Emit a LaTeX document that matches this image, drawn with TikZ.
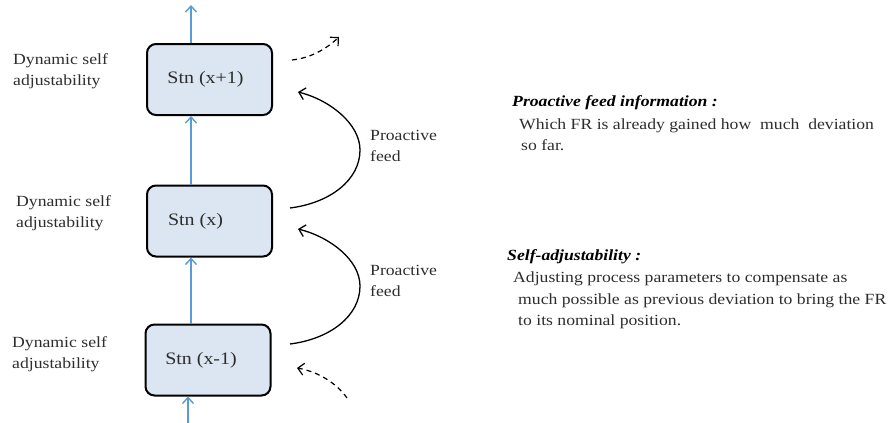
\documentclass[tikz,border=0pt]{standalone}
\usepackage{fontspec}
\setmainfont{Liberation Serif}[FakeStretch=1.14]
\usetikzlibrary{arrows.meta}
\definecolor{boxfill}{RGB}{220,230,242}
\definecolor{flowblue}{RGB}{91,155,213}
\definecolor{txt}{RGB}{45,45,45}
\begin{document}
\begin{tikzpicture}[x=1pt,y=-1pt,
  stn/.style={draw=black,line width=2pt,fill=boxfill,rounded corners=9pt,minimum width=125pt,minimum height=71pt,inner sep=0pt,font=\fontsize{17.5}{20}\selectfont,text=txt},
  flow/.style={draw=flowblue,line width=1.4pt,-{Straight Barb[length=6pt,width=11pt,line width=1.4pt]}},
  feed/.style={draw=black,line width=1.3pt,-{Straight Barb[length=6pt,width=12pt,line width=1.3pt]}},
  dfeed/.style={draw=black,line width=1.2pt,dash pattern=on 5pt off 4pt,-{Straight Barb[length=6pt,width=12pt,line width=1.2pt]}},
  lbl/.style={anchor=west,align=left,text=txt,font=\fontsize{15.5}{21.5}\selectfont,inner sep=0pt},
  head/.style={anchor=west,text=black,font=\fontsize{15.5}{21.5}\selectfont\bfseries\itshape,inner sep=0pt}]
\useasboundingbox (0,0) rectangle (895,423);
\node[stn] (s3) at (209.5,79.5) {Stn (x+1)\kern8pt};
\node[stn] (s2) at (209.5,221) {Stn (x)\kern28pt};
\node[stn] (s1) at (208,360) {Stn (x-1)\kern14pt};
% blue flow arrows
\coordinate (topend) at (191,5);
\coordinate (botstart) at (188,423);
\draw[flow] (s3.north -| topend) -- (topend);
\draw[flow] (s2.north -| topend) -- (s3.south -| topend);
\draw[flow] (s1.north -| topend) -- (s2.south -| topend);
\draw[flow] (botstart) -- (s1.south -| botstart);
% left labels
\node[lbl] (d3) at (13,71) {Dynamic self\\adjustability};
\node[lbl] (d2) at (16,213) {Dynamic self\\adjustability};
\node[lbl] (d1) at (12,354) {Dynamic self\\adjustability};
% proactive feed curves
\coordinate (a2) at (290,208);
\coordinate (b3) at (298,92);
\coordinate (a1) at (290,344);
\coordinate (b2) at (298,229);
\draw[feed] (a2) .. controls (330,203) and (360,180) .. (360,150) .. controls (360,124) and (330,100) .. (b3);
\draw[feed] (a1) .. controls (330,339) and (360,316) .. (360,286) .. controls (360,260) and (330,237) .. (b2);
\node[lbl] (p2) at (370,146) {Proactive\\feed};
\node[lbl] (p1) at (370,281) {Proactive\\feed};
% dashed arrows
\coordinate (t1) at (292,60);
\coordinate (t2) at (339,37);
\coordinate (u1) at (347,398);
\coordinate (u2) at (297,368);
\draw[dfeed] (t1) .. controls (310,58) and (325,50) .. (t2);
\draw[dfeed] (u1) .. controls (338,385) and (320,372) .. (u2);
% right text
\node[head] (h1) at (512,103) {Proactive feed information :};
\node[lbl] (b1) at (519,134.5) {Which FR is already gained how\ \ much\ \ deviation\\\hspace{2pt}so far.};
\node[head] (h2) at (507,257) {Self-adjustability :};
\node[lbl] (b2t) at (513,300.5) {Adjusting process parameters to compensate as\\\hspace{5pt}much possible as previous deviation to bring the FR\\\hspace{5pt}to its nominal position.};
\end{tikzpicture}
\end{document}
